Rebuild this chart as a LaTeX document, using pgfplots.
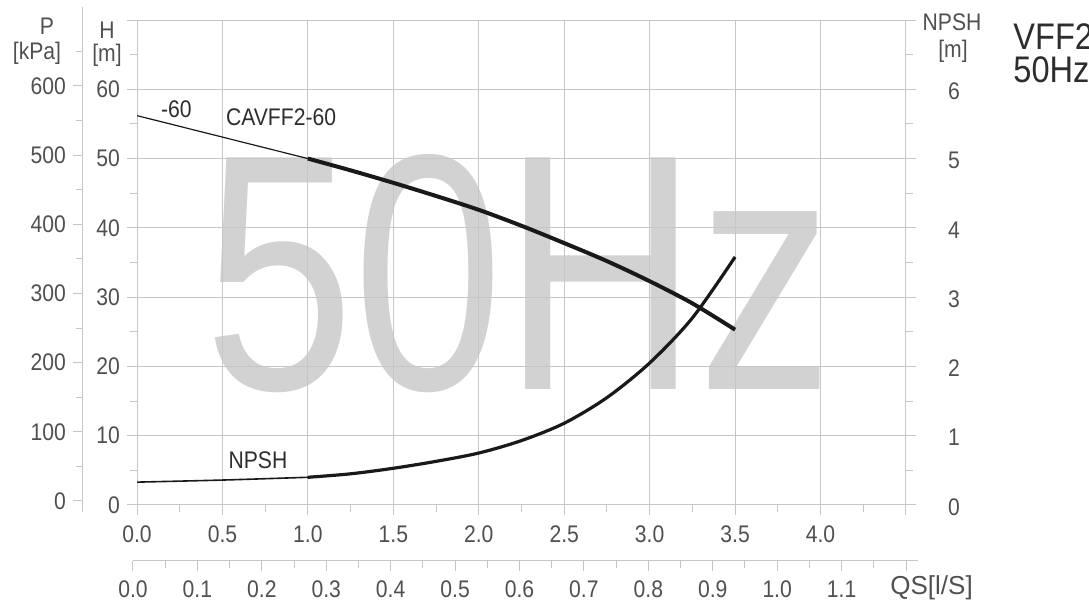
\documentclass[border=0pt]{standalone}
\usepackage{fontspec}
\setmainfont[FakeStretch=0.88]{Liberation Sans}
\newfontfamily\plainsans{Liberation Sans}
\usepackage{graphicx}
\usepackage{pgfplots}
\pgfplotsset{compat=1.18}
\definecolor{gridc}{RGB}{198,198,198}
\definecolor{txt}{RGB}{80,80,80}
\definecolor{curve}{RGB}{25,25,25}
\definecolor{wm}{RGB}{210,210,210}
\definecolor{dark}{RGB}{45,45,45}

\pgfplotsset{
  every axis/.append style={
    scale only axis,
    font=\fontsize{12}{14}\selectfont,
    tick label style={text=txt},
    axis line style={gridc, line width=0.5pt, -},
    major tick style={gridc, line width=0.5pt},
    minor tick style={gridc, line width=0.5pt},
    major grid style={gridc, line width=0.5pt},
    tick align=outside,
    major tick length=5pt,
    minor tick length=3.5pt,
  },
  plotarea/.style={
    at={(68.5pt,47.5pt)}, anchor=south west,
    width=384.5pt, height=242.5pt,
    xmin=0, xmax=4.5,
  },
}

\begin{document}
\begin{tikzpicture}

% big 50Hz watermark, under the grid
\begin{axis}[plotarea, ymin=0, ymax=70, hide axis]
\node[anchor=base west, inner sep=0, text=wm] at (axis cs:0.39,16.6)
  {\resizebox{314.5pt}{117.5pt}{\plainsans 50Hz}};
\end{axis}

% P [kPa] axis (left, offset)
\begin{axis}[
  at={(41.5pt,44pt)}, anchor=south west,
  width=1pt, height=252.5pt,
  xmin=0, xmax=1, ymin=-15.9, ymax=714,
  hide x axis, axis y line*=left,
  ytick={0,100,200,300,400,500,600},
  yticklabels={0,100,200,300,400,500,600},
  minor ytick={50,150,250,350,450,550,650},
]
\end{axis}

% QS [l/S] axis (second x axis)
\begin{axis}[
  at={(66.5pt,19.5pt)}, anchor=south west,
  width=392.5pt, height=1pt,
  xmin=0, xmax=1.2186, ymin=0, ymax=1,
  hide y axis, axis x line*=bottom,
  xtick={0,0.1,0.2,0.3,0.4,0.5,0.6,0.7,0.8,0.9,1.0,1.1,1.2},
  xticklabels={0.0,0.1,0.2,0.3,0.4,0.5,0.6,0.7,0.8,0.9,1.0,1.1,},
  minor xtick={0.05,0.15,0.25,0.35,0.45,0.55,0.65,0.75,0.85,0.95,1.05,1.15},
  xticklabel style={yshift=-1.5pt},
]
\end{axis}

% main H [m] axis
\begin{axis}[
  plotarea, ymin=0, ymax=70,
  xtick pos=bottom, ytick pos=left,
  xtick={0,0.5,1,1.5,2,2.5,3,3.5,4,4.5},
  xticklabels={0.0,0.5,1.0,1.5,2.0,2.5,3.0,3.5,4.0,},
  minor xtick={0.25,0.75,1.25,1.75,2.25,2.75,3.25,3.75,4.25},
  ytick={0,10,20,30,40,50,60,70},
  yticklabels={0,10,20,30,40,50,60,},
  minor ytick={5,15,25,35,45,55,65},
  xticklabel style={yshift=-2pt},
  grid=major,
]
% CAVFF2-60 head curve
\addplot[curve, line width=0.6pt] coordinates {(0,56.2) (0.5,53.1) (1.0,50.0)};
\addplot[curve, line width=2pt, smooth] coordinates {
  (1.0,50.0) (1.25,48.3) (1.5,46.5) (1.75,44.6) (2.0,42.6) (2.25,40.3)
  (2.5,37.8) (2.75,35.2) (3.0,32.3) (3.25,29.1) (3.5,25.3)};
\node[text=dark] at (axis cs:0.23,57.1) {-60};
\node[text=dark] at (axis cs:0.843,56.0) {CAVFF2-60};
\node[text=dark] at (axis cs:0.708,6.4) {NPSH};
\end{axis}

% NPSH [m] axis (right)
\begin{axis}[
  plotarea, ymin=0, ymax=7,
  hide x axis, axis y line*=right,
  ytick={0,1,2,3,4,5,6,7},
  yticklabels={0,1,2,3,4,5,6,},
  minor ytick={0.5,1.5,2.5,3.5,4.5,5.5,6.5},
  yticklabel style={xshift=12.5pt, yshift=-1pt},
]
\addplot[curve, line width=0.8pt, smooth] coordinates {(0,0.33) (0.5,0.36) (1.0,0.40)};
\addplot[curve, line width=1.6pt, smooth] coordinates {
  (1.0,0.40) (1.25,0.45) (1.5,0.53) (1.75,0.63) (2.0,0.75) (2.25,0.93)
  (2.5,1.18) (2.75,1.55) (3.0,2.05) (3.25,2.70) (3.5,3.58)};
\end{axis}

\begin{scope}[x=0.5pt, y=0.5pt, every node/.style={text=txt, font=\fontsize{12}{14}\selectfont}]
\node at (47,574) {P};
\node at (37,547) {[kPa]};
\node at (107,570) {H};
\node at (107,545) {[m]};
\node at (952,578) {NPSH};
\node at (953,549) {[m]};
\node[anchor=west, inner sep=0, font=\plainsans\fontsize{13}{15}\selectfont] at (890,12) {QS[l/S]};
\node[anchor=base west, inner sep=0, text height=13pt, text depth=0pt, text=dark,
  font=\fontsize{18.5}{20}\selectfont] at (1013,550) {VFF2};
\node[anchor=base west, inner sep=0, text height=13pt, text depth=0pt, text=dark,
  font=\fontsize{18.5}{20}\selectfont] at (1013,517) {50Hz};
\end{scope}

\pgfresetboundingbox
\useasboundingbox (0,0) rectangle (544.5pt,300pt);
\end{tikzpicture}
\end{document}
